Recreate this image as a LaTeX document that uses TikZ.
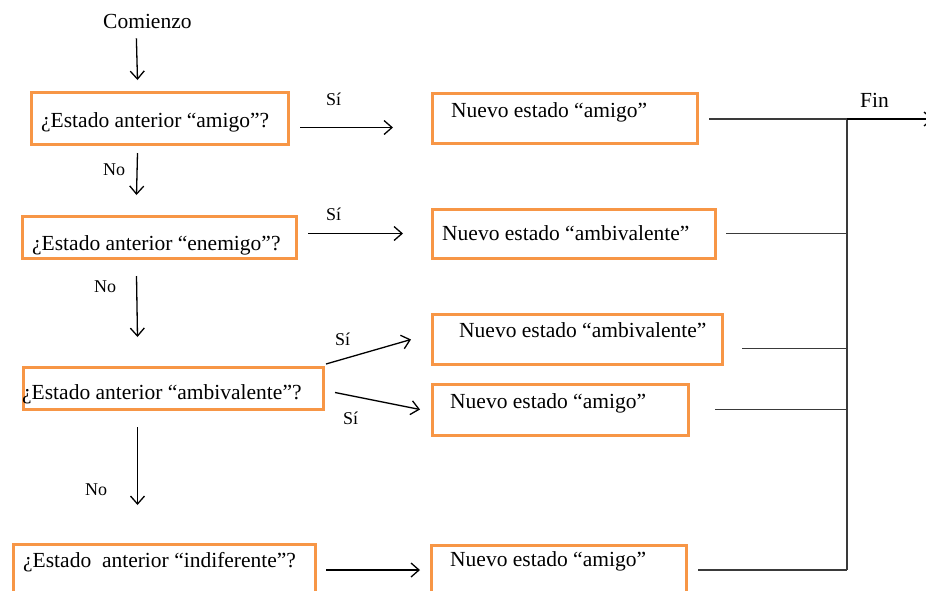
\documentclass[tikz,border=0pt]{standalone}
\usepackage{fontspec}
\setmainfont{Liberation Serif}
\usetikzlibrary{arrows.meta,calc}
\definecolor{boxorange}{HTML}{F79646}
\definecolor{joinline}{HTML}{3A3A3A}
\begin{document}
\begin{tikzpicture}[x=1pt,y=-1pt,
  box/.style={draw=boxorange, line width=3pt, rectangle, inner sep=0pt, anchor=north west},
  txt/.style={inner sep=0pt, anchor=base west, font=\fontsize{21.5}{26}\selectfont},
  lbl/.style={inner sep=0pt, anchor=base west, font=\fontsize{18}{22}\selectfont},
  arr/.style={line width=1.3pt, -{Straight Barb[length=8pt,width=14pt,line width=1.3pt]}},
  joinln/.style={draw=joinline, line width=1.4pt}]
\clip (0,0) rectangle (926,590);

% start
\node[txt] (start) at (103,28) {Comienzo};

% question boxes
\node[box, minimum width=257pt, minimum height=52pt] (q1) at (29.5,90.5) {};
\node[box, minimum width=274pt, minimum height=42pt] (q2) at (20.5,214.5) {};
\node[box, minimum width=300pt, minimum height=42pt] (q3) at (21.5,365.5) {};
\node[box, minimum width=302pt, minimum height=52pt] (q4) at (11.5,542.5) {};

% new-state boxes
\node[box, minimum width=265pt, minimum height=50pt] (n1) at (430.5,91.5) {};
\node[box, minimum width=283pt, minimum height=49pt] (n2) at (430.5,207.5) {};
\node[box, minimum width=290pt, minimum height=50pt] (n3) at (430.5,312.5) {};
\node[box, minimum width=256pt, minimum height=51pt] (n4) at (430.5,382.5) {};
\node[box, minimum width=255pt, minimum height=50pt] (n5) at (429.5,543.5) {};

% box texts
\node[txt] (tq1) at (41,127) {¿Estado anterior “amigo”?};
\node[txt] (tq2) at (32,250) {¿Estado anterior “enemigo”?};
\node[txt] (tq3) at (22,399) {¿Estado anterior “ambivalente”?};
\node[txt] (tq4) at (23,567) {¿Estado\ \ anterior “indiferente”?};
\node[txt] (tn1) at (451,117) {Nuevo estado “amigo”};
\node[txt] (tn2) at (442,240) {Nuevo estado “ambivalente”};
\node[txt] (tn3) at (459,337) {Nuevo estado “ambivalente”};
\node[txt] (tn4) at (450,408) {Nuevo estado “amigo”};
\node[txt] (tn5) at (450,566) {Nuevo estado “amigo”};

% branch labels
\node[lbl] (s1) at (326,105) {Sí};
\node[lbl] (s2) at (326,220) {Sí};
\node[lbl] (s3) at (335,345) {Sí};
\node[lbl] (s4) at (343,424) {Sí};
\node[lbl] (no1) at (103,175) {No};
\node[lbl] (no2) at (94,292) {No};
\node[lbl] (no3) at (85,495) {No};
\node[txt] (fin) at (860,107) {Fin};

% main vertical flow
\draw[arr] ([shift={(-11,10)}]start.south) -- ([shift={(-22,-10.5)}]q1.north);
\draw[arr] ([shift={(-22,7.5)}]q1.south) -- ([shift={(-22.5,-19.5)}]q2.north);
\draw[arr] ([shift={(-22.5,16.5)}]q2.south) -- ([shift={(-35.5,-28.5)}]q3.north);
\draw[arr] ([shift={(-35.5,16.5)}]q3.south) -- ([shift={(-26.5,-37.5)}]q4.north);

% yes branches
\draw[arr] ([shift={(10.5,9.5)}]q1.east) -- ([shift={(-37.5,9.5)}]n1.west);
\draw[arr] ([shift={(10.5,-3.5)}]q2.east) -- ([shift={(-27.5,0)}]n2.west);
\draw[arr] ([shift={(1.5,-1.5)}]q3.north east) -- ([shift={(-19.5,0.5)}]n3.west);
\draw[arr] ([shift={(10.5,4.5)}]q3.east) -- ([shift={(-10.5,0)}]n4.west);
\draw[arr] ([shift={(9.5,0)}]q4.east) -- ([shift={(-9.5,0)}]n5.west);

% joining lines towards the end
\coordinate (jx) at (847,0);
\coordinate (o1) at ([shift={(10.5,1)}]n1.east);
\coordinate (o2) at ([shift={(9.5,0)}]n2.east);
\coordinate (o3) at ([shift={(18.5,9.5)}]n3.east);
\coordinate (o4) at ([shift={(25.5,0)}]n4.east);
\coordinate (o5) at ([shift={(10.5,0)}]n5.east);
\draw[joinln] (o1) -- (o1 -| jx);
\draw[joinln] (o2) -- (o2 -| jx);
\draw[joinln] (o3) -- (o3 -| jx);
\draw[joinln] (o4) -- (o4 -| jx);
\draw[joinln] (o5) -- (o5 -| jx);
\draw[joinln] (o1 -| jx) -- (o5 -| jx);
\coordinate (endpt) at ([xshift=86pt]o1 -| jx);
\draw[arr] (o1 -| jx) -- (endpt);
\end{tikzpicture}
\end{document}
